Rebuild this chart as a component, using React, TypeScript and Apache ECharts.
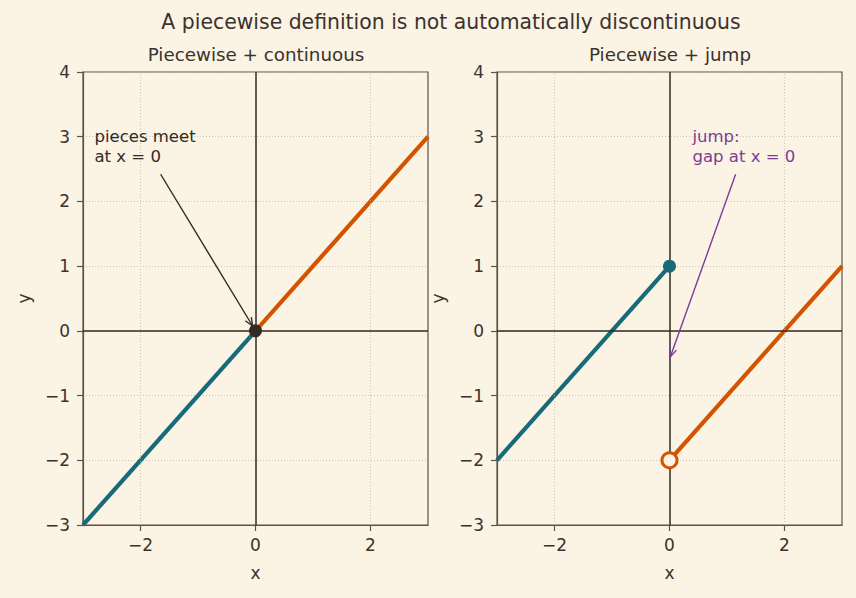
import React, { useEffect, useRef } from "react";
import * as echarts from "echarts";

const xTicks = [-2, 0, 2];
const xGridLines = [-2, 2];
const leftTeal = [[-3, -3], [0, 0]];
const leftOrange = [[0, 0], [3, 3]];
const rightTeal = [[-3, -2], [0, 1]];
const rightOrange = [[0, -2], [3, 1]];
const leftMeetPoint = [[0, 0]];
const rightClosedPoint = [[0, 1]];
const rightOpenPoint = [[0, -2]];
const leftNote = { lines: ["pieces meet", "at x = 0"], textAt: [-2.8, 2.6], arrow: [-1.65, 2.42, -0.05, 0.075] };
const rightNote = { lines: ["jump:", "gap at x = 0"], textAt: [0.4, 2.6], arrow: [1.15, 2.42, 0.015, -0.4] };

const BG = "#FBF3E4";
const TXT = "#3a322d";
const FRAME = "#5e5247";
const TEAL = "#176b78";
const ORANGE = "#d35400";
const PURPLE = "#7d3c98";
const DARK = "#322a25";
const FONT = "DejaVu Sans";

const minus = (v: number) => String(v).replace("-", "\u2212");

function xAxis(gi: number) {
  return {
    type: "value", gridIndex: gi, min: -3, max: 3, interval: 1,
    name: "x", nameLocation: "middle", nameGap: 39,
    nameTextStyle: { color: TXT, fontSize: 17, fontFamily: FONT },
    axisLine: { show: true, onZero: false, lineStyle: { color: FRAME, width: 1.2 } },
    axisTick: { show: true, length: 6, customValues: xTicks, lineStyle: { color: FRAME, width: 1.2 } },
    axisLabel: { customValues: xTicks, color: TXT, fontSize: 17, fontFamily: FONT, margin: 11, formatter: (v: number) => minus(v) },
    splitLine: { show: false },
  };
}
function yAxis(gi: number) {
  return {
    type: "value", gridIndex: gi, min: -3, max: 4, interval: 1,
    name: "y", nameLocation: "middle", nameGap: 51,
    nameTextStyle: { color: TXT, fontSize: 17, fontFamily: FONT },
    axisLine: { show: true, onZero: false, lineStyle: { color: FRAME, width: 1.2 } },
    axisTick: { show: true, length: 6, lineStyle: { color: FRAME, width: 1.2 } },
    axisLabel: { color: TXT, fontSize: 17, fontFamily: FONT, margin: 13, formatter: (v: number) => minus(v) },
    splitLine: { show: true, lineStyle: { color: "#c4b9a6", width: 0.8, type: [1, 2] } },
  };
}

function helper(gi: number) {
  return {
    type: "line", xAxisIndex: gi, yAxisIndex: gi, data: [[0, 0]], symbol: "none",
    lineStyle: { width: 0 }, silent: true, z: 1,
    markLine: {
      silent: true, symbol: "none", label: { show: false },
      data: [
        ...xGridLines.map((v) => ({ xAxis: v, lineStyle: { color: "#c4b9a6", width: 0.8, type: [1, 2] } })),
        { xAxis: 0, lineStyle: { color: DARK, width: 1.5, type: "solid" } },
        { yAxis: 0, lineStyle: { color: DARK, width: 1.5, type: "solid" } },
      ],
    },
  };
}

function lineS(gi: number, data: number[][], color: string) {
  return {
    type: "line", xAxisIndex: gi, yAxisIndex: gi, data, symbol: "none",
    lineStyle: { color, width: 4.2 }, z: 3, silent: true,
  };
}

function note(gi: number, n: any, color: string) {
  return {
    type: "custom", xAxisIndex: gi, yAxisIndex: gi, z: 5, silent: true, clip: false,
    data: [[...n.arrow, ...n.textAt]],
    encode: { x: [0, 2], y: [1, 3] },
    renderItem: (params: any, api: any) => {
      const p0 = api.coord([api.value(0), api.value(1)]);
      const p1 = api.coord([api.value(2), api.value(3)]);
      const pt = api.coord([api.value(4), api.value(5)]);
      const ang = Math.atan2(p1[1] - p0[1], p1[0] - p0[0]);
      const L = 9, a = 0.4;
      const h1 = [p1[0] - L * Math.cos(ang - a), p1[1] - L * Math.sin(ang - a)];
      const h2 = [p1[0] - L * Math.cos(ang + a), p1[1] - L * Math.sin(ang + a)];
      return {
        type: "group",
        children: [
          { type: "line", shape: { x1: p0[0], y1: p0[1], x2: p1[0], y2: p1[1] }, style: { stroke: color, lineWidth: 1.4 } },
          { type: "polyline", shape: { points: [h1, p1, h2] }, style: { stroke: color, lineWidth: 1.4, fill: null } },
          {
            type: "text", x: pt[0], y: pt[1] + 4,
            style: { text: n.lines.join("\n"), fill: color, font: `16.5px '${FONT}'`, lineHeight: 20, verticalAlign: "bottom", align: "left" },
          },
        ],
      };
    },
  };
}

export default function App() {
  const ref = useRef<HTMLDivElement>(null);
  useEffect(() => {
    if (!ref.current) return;
    const chart = echarts.init(ref.current, undefined, { renderer: "svg" });
    chart.setOption({
      animation: false,
      backgroundColor: BG,
      title: [
        { text: "A piecewise definition is not automatically discontinuous", left: 446, textAlign: "center", top: 7, textStyle: { color: TXT, fontSize: 20.4, fontWeight: "normal", fontFamily: FONT } },
        { text: "Piecewise + continuous", left: 251, textAlign: "center", top: 40, textStyle: { color: TXT, fontSize: 18.3, fontWeight: "normal", fontFamily: FONT } },
        { text: "Piecewise + jump", left: 665, textAlign: "center", top: 40, textStyle: { color: TXT, fontSize: 18.3, fontWeight: "normal", fontFamily: FONT } },
      ],
      grid: [
        { left: 83, top: 72, width: 345, height: 453, show: true, borderColor: FRAME, borderWidth: 1.2, backgroundColor: "transparent" },
        { left: 497, top: 72, width: 345, height: 453, show: true, borderColor: FRAME, borderWidth: 1.2, backgroundColor: "transparent" },
      ],
      xAxis: [xAxis(0), xAxis(1)],
      yAxis: [yAxis(0), yAxis(1)],
      series: [
        helper(0),
        helper(1),
        lineS(0, leftTeal, TEAL),
        lineS(0, leftOrange, ORANGE),
        lineS(1, rightTeal, TEAL),
        lineS(1, rightOrange, ORANGE),
        { type: "scatter", xAxisIndex: 0, yAxisIndex: 0, data: leftMeetPoint, symbolSize: 13, itemStyle: { color: DARK, opacity: 1 }, z: 6, silent: true },
        { type: "scatter", xAxisIndex: 1, yAxisIndex: 1, data: rightClosedPoint, symbolSize: 13, itemStyle: { color: TEAL, opacity: 1 }, z: 6, silent: true },
        { type: "scatter", xAxisIndex: 1, yAxisIndex: 1, data: rightOpenPoint, symbolSize: 15, itemStyle: { color: BG, borderColor: ORANGE, borderWidth: 3, opacity: 1 }, z: 6, silent: true },
        note(0, leftNote, DARK),
        note(1, rightNote, PURPLE),
      ],
    });
    return () => chart.dispose();
  }, []);
  return <div ref={ref} style={{ width: 856, height: 598, position: "fixed", left: 0, top: 0 }} />;
}
